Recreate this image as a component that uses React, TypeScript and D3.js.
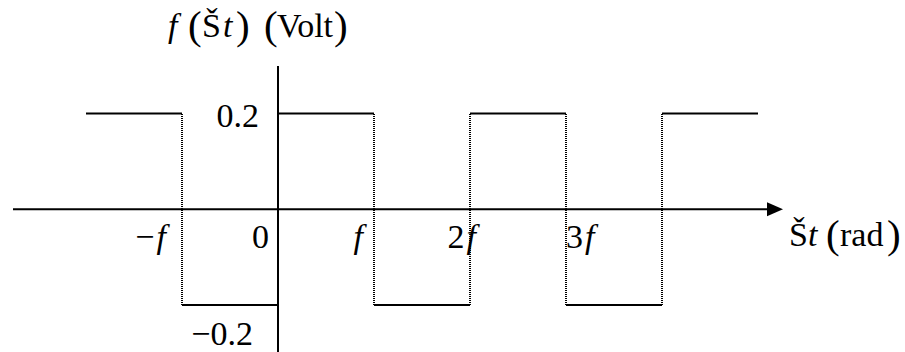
import React from "react";
import * as d3 from "d3";

// Square wave f(Št): switching points in multiples of f, and the level held on each interval (Volt)
const switchPoints = [-2, -1, 0, 1, 2, 3, 4, 5];
const levels = [0.2, -0.2, 0.2, -0.2, 0.2, -0.2, 0.2];

const xTickValues = [-1, 0, 1, 2, 3];
const xTickLabels = ["\u2212f", "0", "f", "2f", "3f"];
const yTickValues = [0.2, -0.2];
const yTickLabels = ["0.2", "\u22120.2"];

const W = 905;
const H = 352;
const FONT = "'Liberation Serif', 'Times New Roman', serif";

// label placement relative to the tick position
const xLabelLayout = [
  { anchor: "end", dx: -16 },
  { anchor: "end", dx: -9 },
  { anchor: "end", dx: -11 },
  { anchor: "end", dx: 6 },
  { anchor: "start", dx: 0 },
];

export default function App() {
  const x = d3.scaleLinear().domain([-2, 5]).range([86, 758]);
  const y = d3.scaleLinear().domain([-0.2, 0.2]).range([305, 113.5]);
  const x0 = Math.round(x(0));
  const y0 = y(0);

  const segments = levels.map((v, i) => ({
    x1: x(switchPoints[i]),
    x2: x(switchPoints[i + 1]),
    y: y(v),
  }));

  // vertical dotted edges at every switch inside the wave (the y axis covers x = 0)
  const edges = switchPoints.slice(1, -1).filter((p) => p !== 0);

  const fs = 34;
  const parenFs = 41;

  return (
    <svg
      width={W}
      height={H}
      style={{ position: "absolute", left: 0, top: 0, background: "#fff" }}
      fontFamily={FONT}
    >
      {/* dotted transitions, pixel-aligned so the dots stay crisp */}
      {edges.map((p) => (
        <line
          key={p}
          x1={Math.round(x(p))}
          x2={Math.round(x(p))}
          y1={Math.round(y(0.2))}
          y2={Math.round(y(-0.2))}
          stroke="#000"
          strokeWidth={2}
          strokeDasharray="1,1"
          shapeRendering="crispEdges"
        />
      ))}

      {/* horizontal axis with arrow */}
      <line x1={13} x2={770} y1={y0} y2={y0} stroke="#000" strokeWidth={2} />
      <path d={`M767,${y0 - 7} L783,${y0} L767,${y0 + 7} Z`} fill="#000" />

      {/* vertical axis */}
      <line x1={x0} x2={x0} y1={66} y2={H} stroke="#000" strokeWidth={2} />

      {/* wave levels */}
      {segments.map((s, i) => (
        <line
          key={i}
          x1={s.x1}
          x2={s.x2}
          y1={s.y}
          y2={s.y}
          stroke="#000"
          strokeWidth={2}
        />
      ))}

      {/* x tick labels */}
      {xTickValues.map((v, i) => (
        <text
          key={v}
          x={x(v) + xLabelLayout[i].dx}
          y={248}
          fontSize={fs}
          textAnchor={xLabelLayout[i].anchor as any}
        >
          {xTickLabels[i].split("").map((c, k) => (
            <tspan
              key={k}
              fontStyle={c === "f" ? "italic" : "normal"}
              dx={c === "f" && k > 0 ? 2 : 0}
            >
              {c}
            </tspan>
          ))}
        </text>
      ))}

      {/* y tick labels */}
      {yTickValues.map((v, i) => (
        <text
          key={v}
          x={i === 0 ? 259 : 253}
          y={y(v) + (i === 0 ? 13 : 40)}
          fontSize={fs}
          textAnchor="end"
        >
          {yTickLabels[i]}
        </text>
      ))}

      {/* vertical axis title */}
      <g fontSize={fs}>
        <text x={168} y={37} fontStyle="italic">f</text>
        <text x={188} y={39} fontSize={parenFs}>(</text>
        <text x={202} y={37}>Š</text>
        <text x={223} y={37} fontStyle="italic">t</text>
        <text x={236} y={39} fontSize={parenFs}>)</text>
        <text x={264} y={39} fontSize={parenFs}>(</text>
        <text x={277} y={37}>Volt</text>
        <text x={334} y={39} fontSize={parenFs}>)</text>
      </g>

      {/* horizontal axis title */}
      <g fontSize={fs}>
        <text x={789} y={246}>Š</text>
        <text x={808} y={246} fontStyle="italic">t</text>
        <text x={826} y={248} fontSize={parenFs}>(</text>
        <text x={840} y={246}>rad</text>
        <text x={887} y={248} fontSize={parenFs}>)</text>
      </g>
    </svg>
  );
}
